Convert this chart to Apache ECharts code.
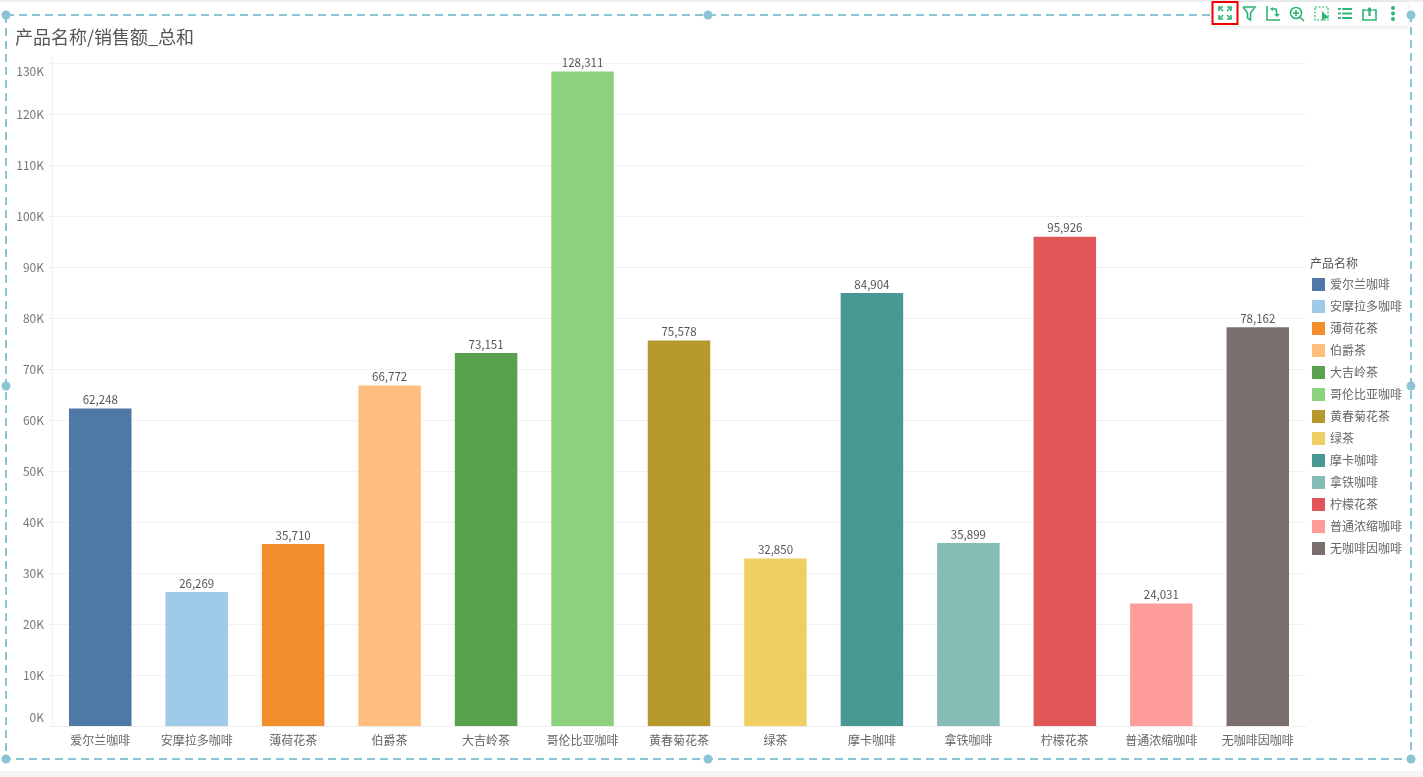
<!DOCTYPE html>
<html><head><meta charset="utf-8">
<style>html,body{margin:0;padding:0;background:#fff}#c{width:1423px;height:777px}</style>
<script src="https://cdn.jsdelivr.net/npm/echarts@6/dist/echarts.min.js"></script>
</head><body><div id="c"></div>
<script>
const titleText = '产品名称/销售额_总和';
const legendTitle = '产品名称';
const categories = ['爱尔兰咖啡','安摩拉多咖啡','薄荷花茶','伯爵茶','大吉岭茶','哥伦比亚咖啡','黄春菊花茶','绿茶','摩卡咖啡','拿铁咖啡','柠檬花茶','普通浓缩咖啡','无咖啡因咖啡'];
const sales = [62248,26269,35710,66772,73151,128311,75578,32850,84904,35899,95926,24031,78162];
const colors = ['#4e79a7','#a0cbe8','#f28e2b','#ffbe7d','#59a14f','#8cd17d','#b6992d','#f1ce63','#499894','#86bcb6','#e15759','#ff9d9a','#79706e'];
const FONT = '"Noto Sans CJK SC","Noto Sans",sans-serif';
const DASH = '#8bc5d5', GREEN = '#2bb673';

const series = categories.map((name,i)=>({
  name, type:'bar', stack:'s', barWidth:62.5,
  data: categories.map((c,j)=> j===i ? sales[i] : null),
  itemStyle:{color:colors[i]},
  label:{show:true, position:'top', distance:3, fontSize:11.5, color:'#555', fontFamily:FONT,
    formatter:p=>p.value==null?'':p.value.toLocaleString('en-US')},
  animation:false
}));

const ln=(x1,y1,x2,y2,w=1.6,c=GREEN,dash)=>({type:'line',silent:true,z:100,shape:{x1,y1,x2,y2},style:{stroke:c,lineWidth:w,lineDash:dash}});
const pl=(pts,w=1.6,fill)=>({type:fill?'polygon':'polyline',silent:true,z:100,shape:{points:pts},style:fill?{fill:GREEN}:{stroke:GREEN,lineWidth:w,fill:'none'}});
const dot=(x,y,r,c=GREEN)=>({type:'circle',silent:true,z:100,shape:{cx:x,cy:y,r},style:{fill:c}});
const handles=[[6,15],[708,15],[1411,15],[6,386],[1411,386],[6,759],[708,759],[1411,759]];
const chrome=[
  {type:'rect',silent:true,z:0,shape:{x:0,y:771,width:1423,height:6},style:{fill:'#f3f4f6'}},
  {type:'rect',silent:true,z:0,shape:{x:0,y:0,width:1423,height:2},style:{fill:'#eeeef3'}},
  ln(52,56,52,63,1,'#f0f0f0'),
  {type:'rect',silent:true,z:90,shape:{x:6,y:15,width:1405,height:744},style:{fill:'none',stroke:DASH,lineWidth:2,lineDash:[8,5]}},
  ...handles.map(h=>dot(h[0],h[1],4.5,DASH)),
  {type:'rect',silent:true,z:95,shape:{x:1211,y:2,width:197,height:24,r:2},style:{fill:'#fff',shadowBlur:5,shadowColor:'rgba(0,0,0,0.12)',shadowOffsetY:1}},
  pl([[1219,11],[1219,7],[1223,7]]),pl([[1227,7],[1231,7],[1231,11]]),pl([[1219,15],[1219,19],[1223,19]]),pl([[1227,19],[1231,19],[1231,15]]),
  ln(1219,7,1223,11),ln(1231,7,1227,11),ln(1219,19,1223,15),ln(1231,19,1227,15),
  {type:'rect',silent:true,z:101,shape:{x:1212.5,y:2,width:25,height:22},style:{fill:'none',stroke:'#f00000',lineWidth:2}},
  pl([[1243,7],[1255,7],[1250.5,13],[1250.5,20],[1247.5,18],[1247.5,13],[1243,7]]),
  pl([[1267,6],[1267,20],[1280,20]]),pl([[1271,9],[1276,9],[1277,15]]),pl([[1274,14],[1277,17],[1280,14]],1,true),pl([[1273,7],[1270,9],[1273,11]],1,true),
  {type:'circle',silent:true,z:100,shape:{cx:1296,cy:13,r:5.5},style:{fill:'none',stroke:GREEN,lineWidth:1.6}},
  ln(1293,13,1299,13),ln(1296,10,1296,16),ln(1300,17,1304,21),
  {type:'rect',silent:true,z:100,shape:{x:1315,y:7,width:13,height:13},style:{fill:'none',stroke:GREEN,lineWidth:1.2,lineDash:[2,1.5]}},
  pl([[1322,11],[1322,21],[1325,18.5],[1329,18],[1322,11]],1,true),
  ln(1338,9,1352,9,2),ln(1338,13.5,1352,13.5,2),ln(1338,18,1352,18,2),ln(1341.5,7,1341.5,20,1.5,'#fff'),
  pl([[1366,10],[1363,10],[1363,20],[1376,20],[1376,10],[1373,10]]),ln(1369.5,8,1369.5,16,2.2),pl([[1366,11],[1369.5,7],[1373,11]],1,true),
  dot(1393,8,2),dot(1393,13.5,2),dot(1393,19,2)
];

const chart = echarts.init(document.getElementById('c'),null,{renderer:'canvas'});
chart.setOption({
  animation:false,
  backgroundColor:'#fff',
  title:[
    {text:titleText,left:15,top:28,padding:0,textStyle:{fontSize:18,fontWeight:'normal',color:'#555',fontFamily:FONT}},
    {text:legendTitle,left:1310,top:257,padding:0,textStyle:{fontSize:12,fontWeight:'normal',color:'#555',fontFamily:FONT}}
  ],
  grid:{left:52,right:117,top:63,bottom:51,containLabel:false},
  legend:{orient:'vertical',left:1312,top:278,padding:0,itemWidth:13,itemHeight:13,itemGap:9,icon:'rect',selectedMode:false,
    data:categories,textStyle:{fontSize:12,color:'#666',fontFamily:FONT}},
  xAxis:{type:'category',data:categories,
    axisLine:{lineStyle:{color:'#eeeeee'}},
    axisTick:{alignWithLabel:true,length:3,lineStyle:{color:'#eeeeee'}},
    axisLabel:{interval:0,fontSize:12,color:'#666',margin:8,fontFamily:FONT},splitLine:{show:false}},
  yAxis:{type:'value',min:0,max:130000,interval:10000,
    axisLine:{show:true,lineStyle:{color:'#f0f0f0'}},
    axisTick:{show:true,length:3,lineStyle:{color:'#f0f0f0'}},
    splitLine:{lineStyle:{color:'#f2f2f2'}},
    axisLabel:{fontSize:12,lineHeight:17,color:'#777',margin:8,fontFamily:FONT,formatter:v=>(v/1000)+'K',
      verticalAlignMinLabel:'bottom',verticalAlignMaxLabel:'top'}},
  series,
  graphic:chrome
});
</script></body></html>
